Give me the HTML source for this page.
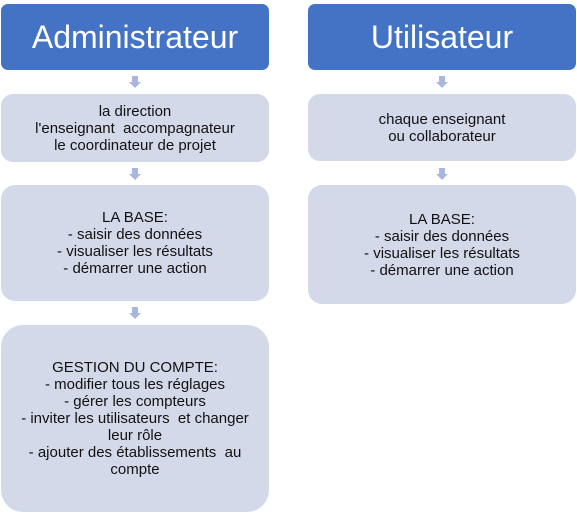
<!DOCTYPE html>
<html><head><meta charset="utf-8"><style>
body{margin:0;width:577px;height:514px;background:#fff;position:relative;font-family:"Liberation Sans",sans-serif;overflow:hidden}
.b{position:absolute;display:flex;align-items:center;justify-content:center;text-align:center;box-sizing:border-box;border-radius:10px}
.t{background:#4472C4;color:#fff;font-size:32px;border-radius:7px}
.l{background:#D4D9EA;color:#111;font-size:15px;line-height:17px;white-space:pre;border-radius:12px}
.a{position:absolute;width:0;height:0}
.a:before{content:"";position:absolute;left:-3px;top:0;width:6px;height:6px;background:#A9B7DE}
.a:after{content:"";position:absolute;left:-6px;top:6px;border-left:6px solid transparent;border-right:6px solid transparent;border-top:6px solid #A9B7DE}
</style></head><body>
<div class="b t" style="left:1px;top:4px;width:268px;height:66px">Administrateur</div>
<div class="b t" style="left:308px;top:4px;width:268px;height:66px">Utilisateur</div>
<div class="a" style="left:135px;top:76px"></div>
<div class="a" style="left:442px;top:76px"></div>
<div class="b l" style="left:1px;top:94px;width:268px;height:68px">la direction
l'enseignant  accompagnateur
le coordinateur de projet</div>
<div class="b l" style="left:308px;top:94px;width:268px;height:67px">chaque enseignant
ou collaborateur</div>
<div class="a" style="left:135px;top:168px"></div>
<div class="a" style="left:442px;top:168px"></div>
<div class="b l" style="left:1px;top:185px;width:268px;height:116px;border-radius:14px">LA BASE:
- saisir des données
- visualiser les résultats
- démarrer une action</div>
<div class="b l" style="left:308px;top:185px;width:268px;height:119px;border-radius:14px">LA BASE:
- saisir des données
- visualiser les résultats
- démarrer une action</div>
<div class="a" style="left:135px;top:307px"></div>
<div class="b l" style="left:1px;top:325px;width:268px;height:187px;border-radius:22px">GESTION DU COMPTE:
- modifier tous les réglages
- gérer les compteurs
- inviter les utilisateurs  et changer
leur rôle
- ajouter des établissements  au
compte</div>
</body></html>
